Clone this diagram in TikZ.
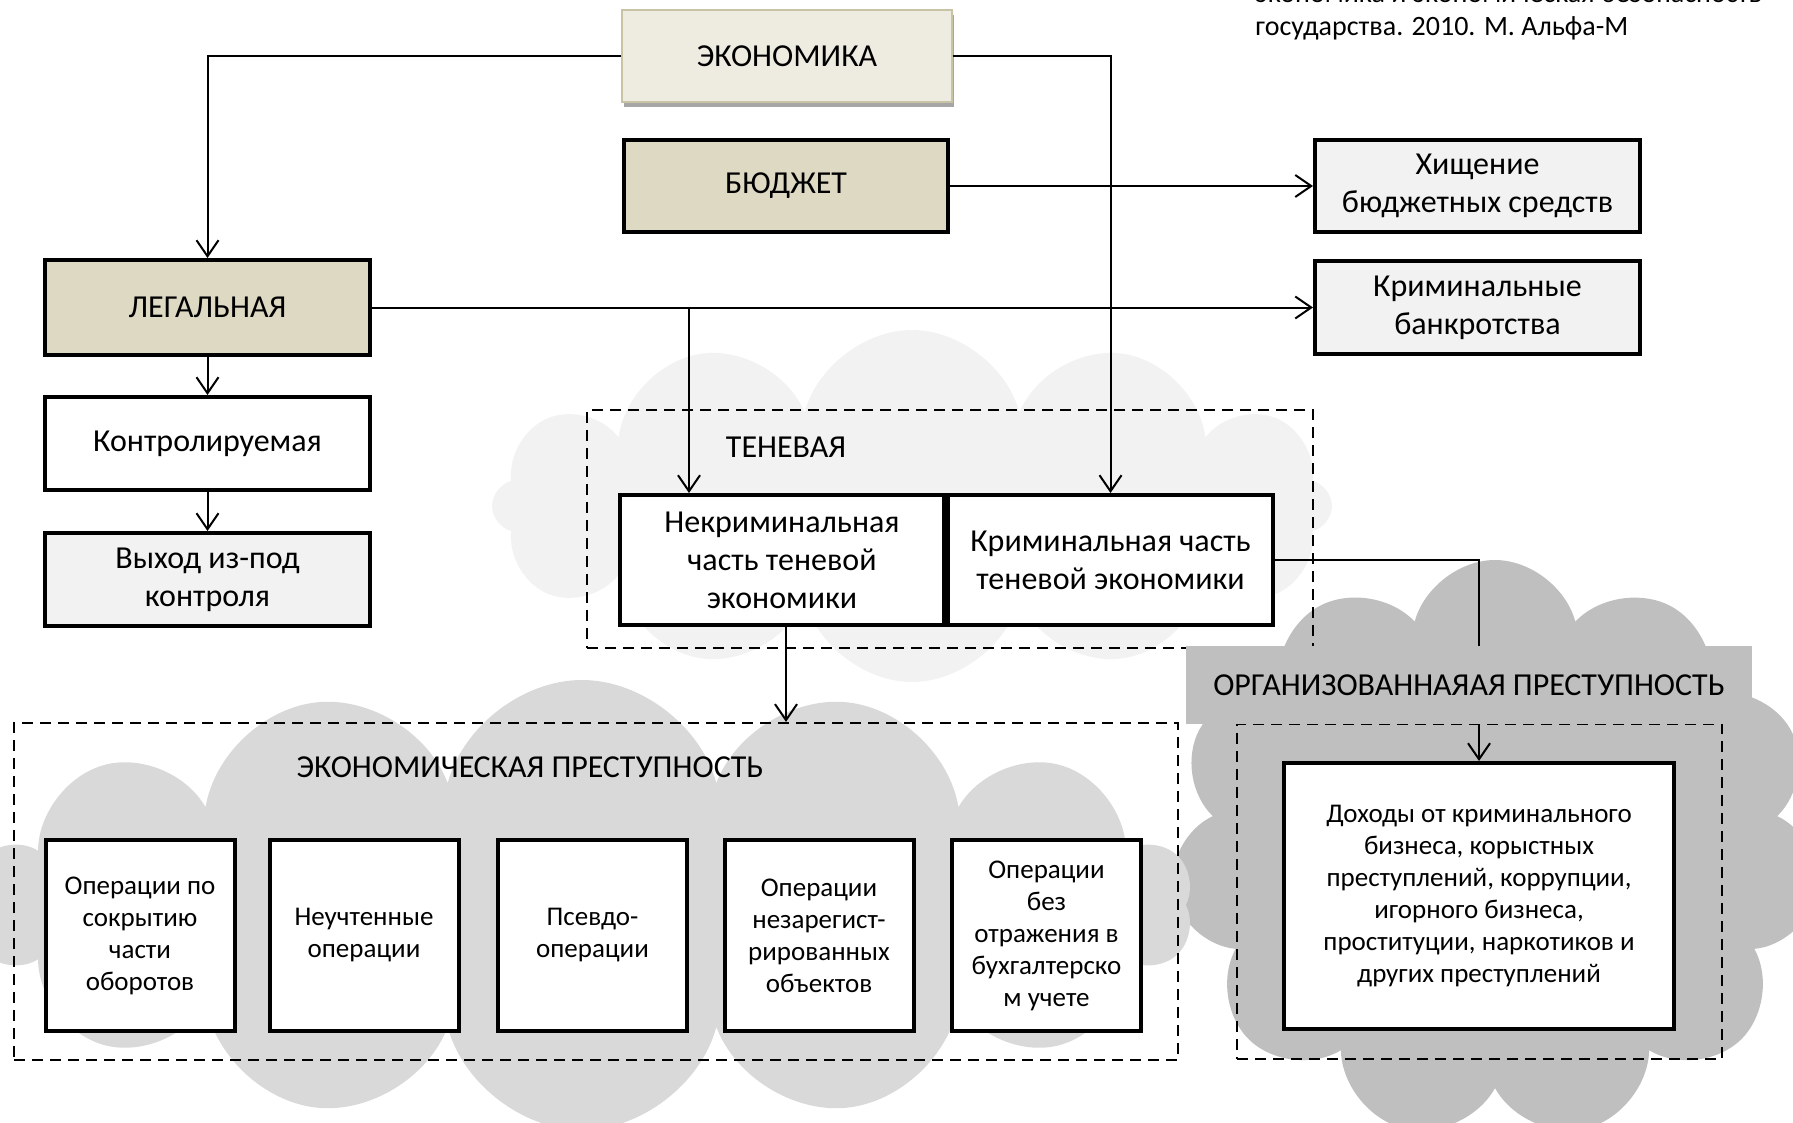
\documentclass[tikz,border=0pt]{standalone}
\usepackage{fontspec}
\setmainfont{Carlito}
\usetikzlibrary{arrows.meta,shapes.symbols,shadows}
\definecolor{tanfill}{HTML}{DDD9C3}
\definecolor{lgray}{HTML}{F2F2F2}
\definecolor{cloudA}{HTML}{F2F2F2}
\definecolor{cloudB}{HTML}{D9D9D9}
\definecolor{cloudC}{HTML}{BFBFBF}
\definecolor{econfill}{HTML}{EEECE1}
\definecolor{econedge}{HTML}{C9C3A5}
\begin{document}
\begin{tikzpicture}[x=0.5pt,y=-0.5pt,
  bigfont/.style={font=\fontsize{16}{19}\selectfont},
  smallfont/.style={font=\fontsize{13.5}{16}\selectfont},
  box/.style={draw=black, line width=2pt, rectangle, align=center, inner sep=2pt, bigfont},
  tanbox/.style={box, fill=tanfill},
  graybox/.style={box, fill=lgray},
  whitebox/.style={box, fill=white},
  opbox/.style={box, fill=white, smallfont, minimum width=94.5pt, minimum height=95.5pt},
  dbox/.style={draw=black, line width=1.1pt, dash pattern=on 5.5pt off 3.5pt, rectangle, inner sep=0pt},
  cloudy/.style={cloud, cloud ignores aspect, draw=none, inner sep=0pt},
  conn/.style={draw=black, line width=1pt},
  arr/.style={-{Straight Barb[length=8pt,width=11pt,line width=1pt]}},
  lbl/.style={bigfont, inner sep=0pt}
]
\useasboundingbox (0,0) rectangle (1793,1123);
\clip (0,0) rectangle (1793,1123);

% clouds
\node[cloudy, cloud puffs=12, minimum width=420pt, minimum height=176pt, fill=cloudA] (cl1) at (912,506) {};
\node[cloudy, cloud puffs=11, minimum width=325pt, minimum height=290pt, fill=cloudC] (cl3) at (1495,850) {};
\node[cloudy, cloud puffs=14, minimum width=610pt, minimum height=225pt, fill=cloudB] (cl2) at (582,905) {};

% citation text
\node[anchor=base west, font=\fontsize{14}{16.5}\selectfont, inner sep=0pt] (cit1) at (1255,3) {экономика и экономическая безопасность};
\node[anchor=base west, font=\fontsize{14}{16.5}\selectfont, inner sep=0pt] (cit2) at (1255,36) {государства. 2010. М. Альфа-М};

% dashed group frames
\node[dbox, minimum width=363pt, minimum height=119pt] (shadowgrp) at (950,529) {};
\node[dbox, minimum width=582pt, minimum height=168.5pt] (ecgrp) at (596,891.5) {};
\node[dbox, minimum width=242.5pt, minimum height=167.5pt] (orggrp) at (1479.5,891.5) {};

% group labels
\node[lbl] (tenlbl) at (786,447) {ТЕНЕВАЯ};
\node[lbl] (eclbl) at (530,767) {ЭКОНОМИЧЕСКАЯ ПРЕСТУПНОСТЬ};
\node[lbl, fill=cloudC, minimum width=283pt, minimum height=39pt] (orglbl) at (1469,685) {ОРГАНИЗОВАННАЯАЯ ПРЕСТУПНОСТЬ};

% top boxes
\node[rectangle, fill=econfill, draw=econedge, line width=0.6pt, bigfont,
      minimum width=165pt, minimum height=46pt,
      drop shadow={shadow xshift=1.2pt, shadow yshift=-2.5pt, fill=black, opacity=0.35}] (econ) at (787,56) {ЭКОНОМИКА};
\node[tanbox, minimum width=162pt, minimum height=46pt] (budget) at (786,186) {БЮДЖЕТ};
\node[graybox, minimum width=162.5pt, minimum height=46pt] (hish) at (1477.5,186) {Хищение\\бюджетных средств};
\node[tanbox, minimum width=162.5pt, minimum height=47.5pt] (legal) at (207.5,307.5) {ЛЕГАЛЬНАЯ};
\node[graybox, minimum width=162.5pt, minimum height=46.5pt] (bankr) at (1477.5,307.5) {Криминальные\\банкротства};
\node[whitebox, minimum width=162.5pt, minimum height=46.5pt] (kontr) at (207.5,443.5) {Контролируемая};
\node[graybox, minimum width=162.5pt, minimum height=46.5pt] (vyhod) at (207.5,579.5) {Выход из-под\\контроля};

% shadow economy parts
\node[whitebox, minimum width=162pt, minimum height=65pt] (nekrim) at (782,560) {Некриминальная\\часть теневой\\экономики};
\node[whitebox, minimum width=162.5pt, minimum height=65pt] (krim) at (1110.5,560) {Криминальная часть\\теневой экономики};

% economic crime operations
\node[opbox] (op1) at (140,935.5) {Операции по\\сокрытию\\части\\оборотов};
\node[opbox] (op2) at (364,935.5) {Неучтенные\\операции};
\node[opbox] (op3) at (592.5,935.5) {Псевдо-\\операции};
\node[opbox] (op4) at (819,935.5) {Операции\\незарегист-\\рированных\\объектов};
\node[opbox] (op5) at (1046.5,935.5) {Операции\\без\\отражения в\\бухгалтерско\\м учете};

% organised crime
\node[box, fill=white, smallfont, minimum width=195pt, minimum height=133pt] (dohody) at (1479,896) {Доходы от криминального\\бизнеса, корыстных\\преступлений, коррупции,\\игорного бизнеса,\\проституции, наркотиков и\\других преступлений};

% connectors
\draw[conn,arr] (econ.west) -| (legal.north);
\draw[conn,arr] (econ.east) -| (krim.north);
\draw[conn,arr] (budget.east) -- (hish.west);
\draw[conn,arr] (legal.east) -- (bankr.west);
\coordinate (j1) at (689,307.5);
\draw[conn,arr] (j1) -- (j1 |- nekrim.north);
\draw[conn,arr] (legal.south) -- (kontr.north);
\draw[conn,arr] (kontr.south) -- (vyhod.north);
\draw[conn,arr] ([xshift=2pt]nekrim.south) -- ([xshift=2pt]nekrim.south |- ecgrp.north);
\draw[conn] (krim.east) -| (dohody.north |- orglbl.north);
\draw[conn,arr] (dohody.north |- orglbl.south) -- (dohody.north);
\end{tikzpicture}
\end{document}
